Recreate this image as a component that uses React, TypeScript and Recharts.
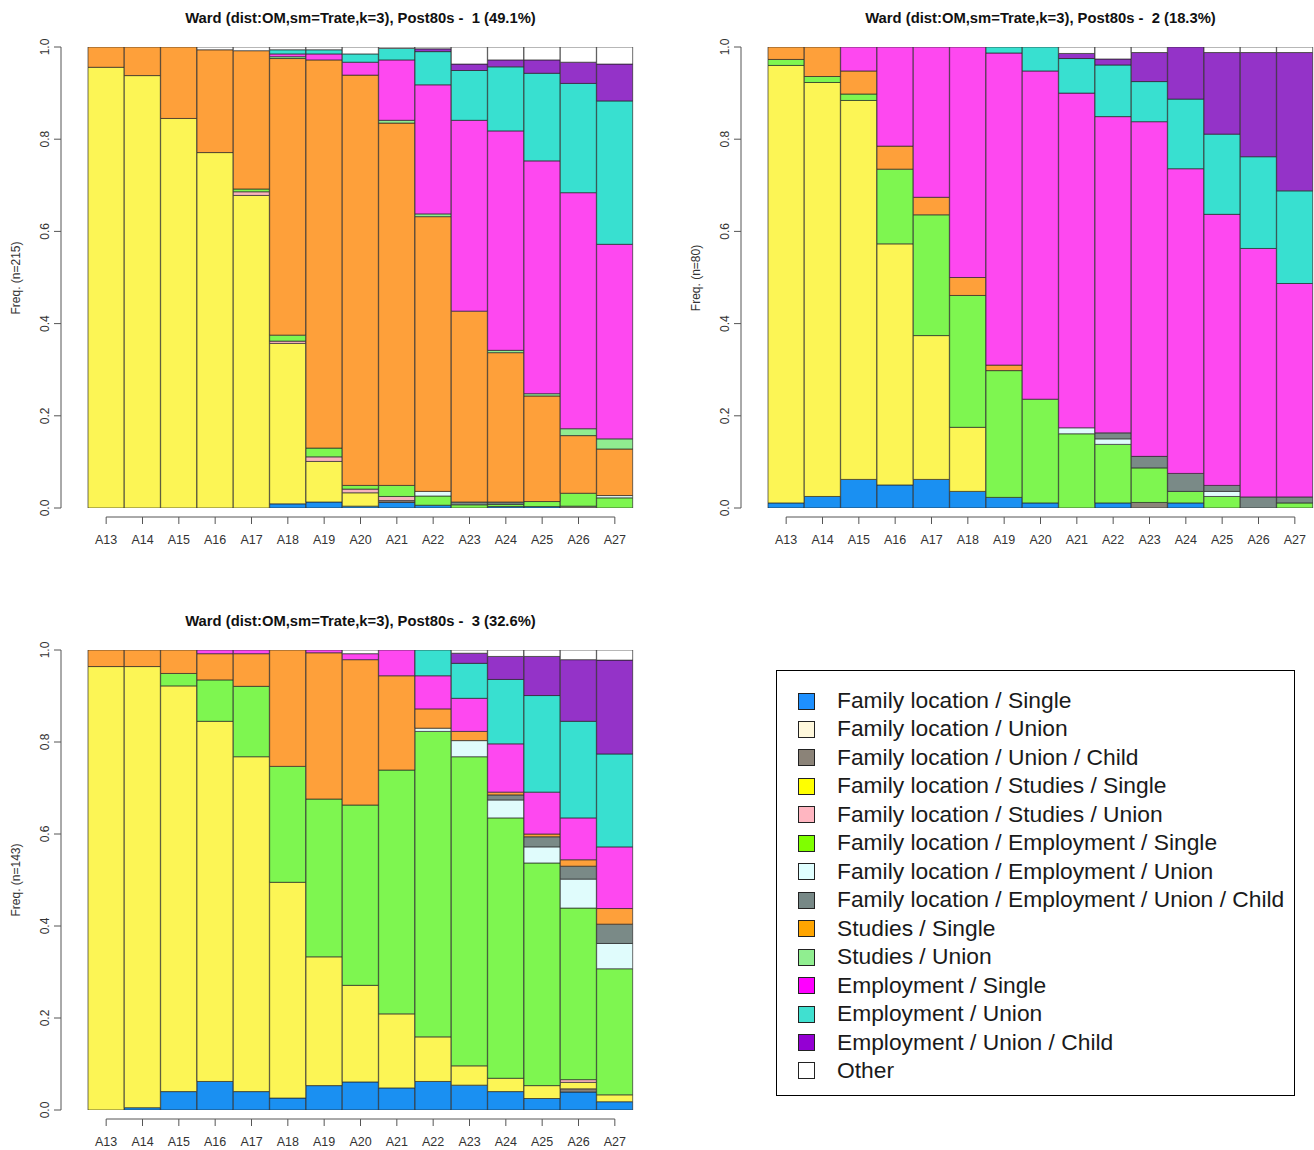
import React from 'react';
import { BarChart, Bar, XAxis, YAxis } from 'recharts';

const categories = ['A13', 'A14', 'A15', 'A16', 'A17', 'A18', 'A19', 'A20', 'A21', 'A22', 'A23', 'A24', 'A25', 'A26', 'A27'];
const yTicks = [0, 0.2, 0.4, 0.6, 0.8, 1];

const stateKeys = ['fls', 'flu', 'fluc', 'flss', 'flsu', 'fles', 'fleu', 'fleuc', 'ss', 'su', 'es', 'eu', 'euc', 'other'];
const stateLabels = [
  'Family location / Single',
  'Family location / Union',
  'Family location / Union / Child',
  'Family location / Studies / Single',
  'Family location / Studies / Union',
  'Family location / Employment / Single',
  'Family location / Employment / Union',
  'Family location / Employment / Union / Child',
  'Studies / Single',
  'Studies / Union',
  'Employment / Single',
  'Employment / Union',
  'Employment / Union / Child',
  'Other',
];
const barColors = ['#1A90F2', '#FFF8DC', '#8B8378', '#FCF555', '#F8B4BC', '#7EF650', '#E0FCFC', '#7A8A87', '#FEA03A', '#90EC90', '#FE48F0', '#38E0D0', '#9433C8', '#FFFFFF'];
const legendColors = ['#1E90FF', '#FFF8DC', '#8B8378', '#FFFF00', '#FFB6C1', '#7FFF00', '#E0FFFF', '#778886', '#FFA500', '#90EE90', '#FF00FF', '#40E0D0', '#9400D3', '#FFFFFF'];

// Cluster 1 (n=215)
const c1fls = [0, 0, 0, 0, 0, 0.009, 0.013, 0.004, 0.012, 0.006, 0, 0.003, 0.003, 0, 0];
const c1flu = [0, 0, 0, 0, 0, 0, 0, 0, 0, 0, 0, 0, 0, 0, 0];
const c1fluc = [0, 0, 0, 0, 0, 0, 0, 0, 0.004, 0, 0, 0, 0, 0.004, 0];
const c1flss = [0.956, 0.938, 0.845, 0.771, 0.678, 0.348, 0.088, 0.029, 0, 0, 0, 0, 0, 0, 0];
const c1flsu = [0, 0, 0, 0, 0.008, 0.005, 0.01, 0.008, 0.009, 0, 0, 0, 0, 0, 0];
const c1fles = [0, 0, 0, 0, 0.006, 0.013, 0.019, 0.008, 0.024, 0.02, 0.007, 0.005, 0.011, 0.028, 0.022];
const c1fleu = [0, 0, 0, 0, 0, 0, 0, 0, 0, 0.01, 0, 0, 0, 0, 0.005];
const c1fleuc = [0, 0, 0, 0, 0, 0, 0, 0, 0, 0, 0.006, 0.005, 0, 0, 0];
const c1ss = [0.044, 0.062, 0.155, 0.223, 0.3, 0.6, 0.842, 0.89, 0.786, 0.596, 0.414, 0.324, 0.229, 0.125, 0.101];
const c1su = [0, 0, 0, 0, 0, 0.004, 0, 0, 0.006, 0.006, 0, 0.005, 0.005, 0.015, 0.022];
const c1es = [0, 0, 0, 0, 0, 0.006, 0.013, 0.028, 0.131, 0.28, 0.414, 0.476, 0.505, 0.512, 0.422];
const c1eu = [0, 0, 0, 0, 0, 0.009, 0.009, 0.018, 0.025, 0.072, 0.108, 0.139, 0.19, 0.237, 0.311];
const c1euc = [0, 0, 0, 0, 0, 0, 0, 0, 0, 0.006, 0.014, 0.015, 0.029, 0.046, 0.08];
const c1other = [0, 0, 0, 0.006, 0.008, 0.006, 0.006, 0.015, 0.003, 0.004, 0.037, 0.028, 0.028, 0.033, 0.037];

// Cluster 2 (n=80)
const c2fls = [0.011, 0.025, 0.062, 0.05, 0.062, 0.036, 0.023, 0.011, 0, 0.011, 0, 0.011, 0, 0, 0];
const c2flu = [0, 0, 0, 0, 0, 0, 0, 0, 0, 0, 0, 0, 0, 0, 0];
const c2fluc = [0, 0, 0, 0, 0, 0, 0, 0, 0, 0, 0.012, 0, 0, 0, 0];
const c2flss = [0.949, 0.898, 0.822, 0.523, 0.312, 0.139, 0, 0, 0, 0, 0, 0, 0, 0, 0];
const c2flsu = [0, 0, 0, 0, 0, 0, 0, 0, 0, 0, 0, 0, 0, 0, 0];
const c2fles = [0.013, 0.013, 0.014, 0.162, 0.262, 0.286, 0.275, 0.225, 0.161, 0.127, 0.075, 0.025, 0.025, 0, 0.011];
const c2fleu = [0, 0, 0, 0, 0, 0, 0, 0, 0.013, 0.012, 0, 0, 0.011, 0, 0];
const c2fleuc = [0, 0, 0, 0, 0, 0, 0, 0, 0, 0.013, 0.025, 0.039, 0.013, 0.024, 0.013];
const c2ss = [0.027, 0.064, 0.05, 0.05, 0.038, 0.039, 0.012, 0, 0, 0, 0, 0, 0, 0, 0];
const c2su = [0, 0, 0, 0, 0, 0, 0, 0, 0, 0, 0, 0, 0, 0, 0];
const c2es = [0, 0, 0.052, 0.215, 0.326, 0.5, 0.677, 0.712, 0.726, 0.686, 0.726, 0.661, 0.588, 0.539, 0.463];
const c2eu = [0, 0, 0, 0, 0, 0, 0.013, 0.052, 0.075, 0.112, 0.087, 0.151, 0.174, 0.199, 0.201];
const c2euc = [0, 0, 0, 0, 0, 0, 0, 0, 0.011, 0.013, 0.063, 0.113, 0.177, 0.226, 0.3];
const c2other = [0, 0, 0, 0, 0, 0, 0, 0, 0.014, 0.026, 0.012, 0, 0.012, 0.012, 0.012];

// Cluster 3 (n=143)
const c3fls = [0, 0.005, 0.04, 0.062, 0.04, 0.026, 0.053, 0.061, 0.048, 0.062, 0.054, 0.04, 0.025, 0.039, 0.018];
const c3flu = [0, 0, 0, 0, 0, 0, 0, 0, 0, 0, 0, 0, 0, 0, 0];
const c3fluc = [0, 0, 0, 0, 0, 0, 0, 0, 0, 0, 0, 0, 0, 0.007, 0];
const c3flss = [0.964, 0.959, 0.882, 0.783, 0.728, 0.469, 0.28, 0.21, 0.161, 0.097, 0.042, 0.029, 0.028, 0.014, 0.015];
const c3flsu = [0, 0, 0, 0, 0, 0, 0, 0, 0, 0, 0, 0, 0, 0.006, 0];
const c3fles = [0, 0, 0.027, 0.09, 0.153, 0.252, 0.343, 0.392, 0.53, 0.664, 0.672, 0.566, 0.484, 0.373, 0.274];
const c3fleu = [0, 0, 0, 0, 0, 0, 0, 0, 0, 0.007, 0.035, 0.039, 0.035, 0.063, 0.055];
const c3fleuc = [0, 0, 0, 0, 0, 0, 0, 0, 0, 0, 0, 0.011, 0.022, 0.028, 0.042];
const c3ss = [0.036, 0.036, 0.051, 0.057, 0.071, 0.253, 0.318, 0.316, 0.205, 0.042, 0.02, 0.006, 0.006, 0.014, 0.034];
const c3su = [0, 0, 0, 0, 0, 0, 0, 0, 0, 0, 0, 0, 0, 0, 0];
const c3es = [0, 0, 0, 0.008, 0.008, 0, 0.006, 0.013, 0.056, 0.072, 0.072, 0.105, 0.091, 0.091, 0.134];
const c3eu = [0, 0, 0, 0, 0, 0, 0, 0, 0, 0.056, 0.076, 0.14, 0.21, 0.21, 0.202];
const c3euc = [0, 0, 0, 0, 0, 0, 0, 0, 0, 0, 0.022, 0.05, 0.085, 0.134, 0.204];
const c3other = [0, 0, 0, 0, 0, 0, 0, 0.008, 0, 0, 0.007, 0.014, 0.014, 0.021, 0.022];

const cluster1 = [c1fls, c1flu, c1fluc, c1flss, c1flsu, c1fles, c1fleu, c1fleuc, c1ss, c1su, c1es, c1eu, c1euc, c1other];
const cluster2 = [c2fls, c2flu, c2fluc, c2flss, c2flsu, c2fles, c2fleu, c2fleuc, c2ss, c2su, c2es, c2eu, c2euc, c2other];
const cluster3 = [c3fls, c3flu, c3fluc, c3flss, c3flsu, c3fles, c3fleu, c3fleuc, c3ss, c3su, c3es, c3eu, c3euc, c3other];

const titles = [
  'Ward (dist:OM,sm=Trate,k=3), Post80s -  1 (49.1%)',
  'Ward (dist:OM,sm=Trate,k=3), Post80s -  2 (18.3%)',
  'Ward (dist:OM,sm=Trate,k=3), Post80s -  3 (32.6%)',
];
const yLabels = ['Freq. (n=215)', 'Freq. (n=80)', 'Freq. (n=143)'];

function buildRows(series: number[][]) {
  return categories.map((c, i) => {
    const r: any = { cat: c };
    stateKeys.forEach((k, j) => {
      r[k] = series[j][i];
    });
    return r;
  });
}

const FONT = '"Liberation Sans", Arial, Helvetica, sans-serif';
const AXIS = '#555';
const TXT = '#333';

const PLOT_LEFT = 88;
const PLOT_TOP = 47;
const PLOT_W = 545;
const CHART_W = 645;
const YAXIS_W = 60;
const XAXIS_H = 40;

function Panel({ left, top, plotH, series, title, yLabel }: any) {
  const chartH = PLOT_TOP + plotH + XAXIS_H + 12;
  const bandW = PLOT_W / categories.length;
  const plotBottom = PLOT_TOP + plotH;
  const rows = buildRows(series);

  const yTick = (p: any) => {
    const { y, payload } = p;
    const v = payload.value;
    return (
      <g>
        <line x1={54} x2={61} y1={y} y2={y} stroke={AXIS} strokeWidth={1} />
        {v === 0 && <line x1={61} x2={61} y1={y} y2={y - plotH} stroke={AXIS} strokeWidth={1} />}
        <text
          transform={`translate(45,${y}) rotate(-90)`}
          textAnchor="middle"
          dy="0.35em"
          fontSize={12}
          fill={TXT}
          fontFamily={FONT}
        >
          {Number(v).toFixed(1)}
        </text>
      </g>
    );
  };

  const xTick = (p: any) => {
    const { x, index, payload } = p;
    const ly = plotBottom + 9;
    return (
      <g>
        {index === 0 && (
          <line x1={x} x2={x + bandW * (categories.length - 1)} y1={ly} y2={ly} stroke={AXIS} strokeWidth={1} />
        )}
        <line x1={x} x2={x} y1={ly} y2={ly + 7} stroke={AXIS} strokeWidth={1} />
        <text x={x} y={ly + 27} textAnchor="middle" fontSize={12.5} fill={TXT} fontFamily={FONT}>
          {payload.value}
        </text>
      </g>
    );
  };

  return (
    <div style={{ position: 'absolute', left, top, width: CHART_W, height: chartH }}>
      <div
        style={{
          position: 'absolute',
          left: PLOT_LEFT + PLOT_W / 2,
          top: PLOT_TOP - 29,
          transform: 'translate(-50%, -50%)',
          fontFamily: FONT,
          fontWeight: 'bold',
          fontSize: 14.8,
          color: '#111',
          whiteSpace: 'pre',
        }}
      >
        {title}
      </div>
      <div
        style={{
          position: 'absolute',
          left: 16,
          top: PLOT_TOP + plotH / 2,
          transform: 'translate(-50%, -50%) rotate(-90deg)',
          fontFamily: FONT,
          fontSize: 12,
          color: TXT,
          whiteSpace: 'pre',
        }}
      >
        {yLabel}
      </div>
      <BarChart
        width={CHART_W}
        height={chartH}
        data={rows}
        barCategoryGap={0}
        barGap={0}
        margin={{ top: PLOT_TOP, left: PLOT_LEFT - YAXIS_W, right: CHART_W - PLOT_LEFT - PLOT_W, bottom: 12 }}
      >
        <XAxis dataKey="cat" height={XAXIS_H} axisLine={false} tickLine={false} interval={0} tick={xTick} />
        <YAxis
          type="number"
          domain={[0, 1]}
          ticks={yTicks}
          width={YAXIS_W}
          axisLine={false}
          tickLine={false}
          allowDataOverflow
          tick={yTick}
        />
        {stateKeys.map((k, j) => (
          <Bar
            key={k}
            dataKey={k}
            stackId="s"
            fill={barColors[j]}
            stroke="#222"
            strokeOpacity={0.65}
            strokeWidth={1}
            isAnimationActive={false}
          />
        ))}
      </BarChart>
    </div>
  );
}

function LegendBox() {
  const rowStart = 700;
  const rowStep = 28.46;
  return (
    <div
      style={{
        position: 'absolute',
        left: 776,
        top: 670,
        width: 519,
        height: 426,
        border: '1px solid #000',
        boxSizing: 'border-box',
      }}
    >
      {stateLabels.map((lab, i) => {
        const cy = rowStart + i * rowStep - 670;
        return (
          <React.Fragment key={lab}>
            <div
              style={{
                position: 'absolute',
                left: 21,
                top: cy - 8.5,
                width: 17,
                height: 17,
                boxSizing: 'border-box',
                border: '1.5px solid #222',
                background: legendColors[i],
              }}
            />
            <div
              style={{
                position: 'absolute',
                left: 60,
                top: cy - 15,
                height: 28,
                lineHeight: '28px',
                fontFamily: FONT,
                fontSize: 22.8,
                color: '#1a1a1a',
                whiteSpace: 'pre',
              }}
            >
              {lab}
            </div>
          </React.Fragment>
        );
      })}
    </div>
  );
}

export default function App() {
  return (
    <div
      style={{
        position: 'absolute',
        left: 0,
        top: 0,
        width: 1314,
        height: 1150,
        overflow: 'hidden',
        background: '#fff',
      }}
    >
      <Panel left={0} top={0} plotH={461} series={cluster1} title={titles[0]} yLabel={yLabels[0]} />
      <Panel left={680} top={0} plotH={461} series={cluster2} title={titles[1]} yLabel={yLabels[1]} />
      <Panel left={0} top={603} plotH={460} series={cluster3} title={titles[2]} yLabel={yLabels[2]} />
      <LegendBox />
    </div>
  );
}
